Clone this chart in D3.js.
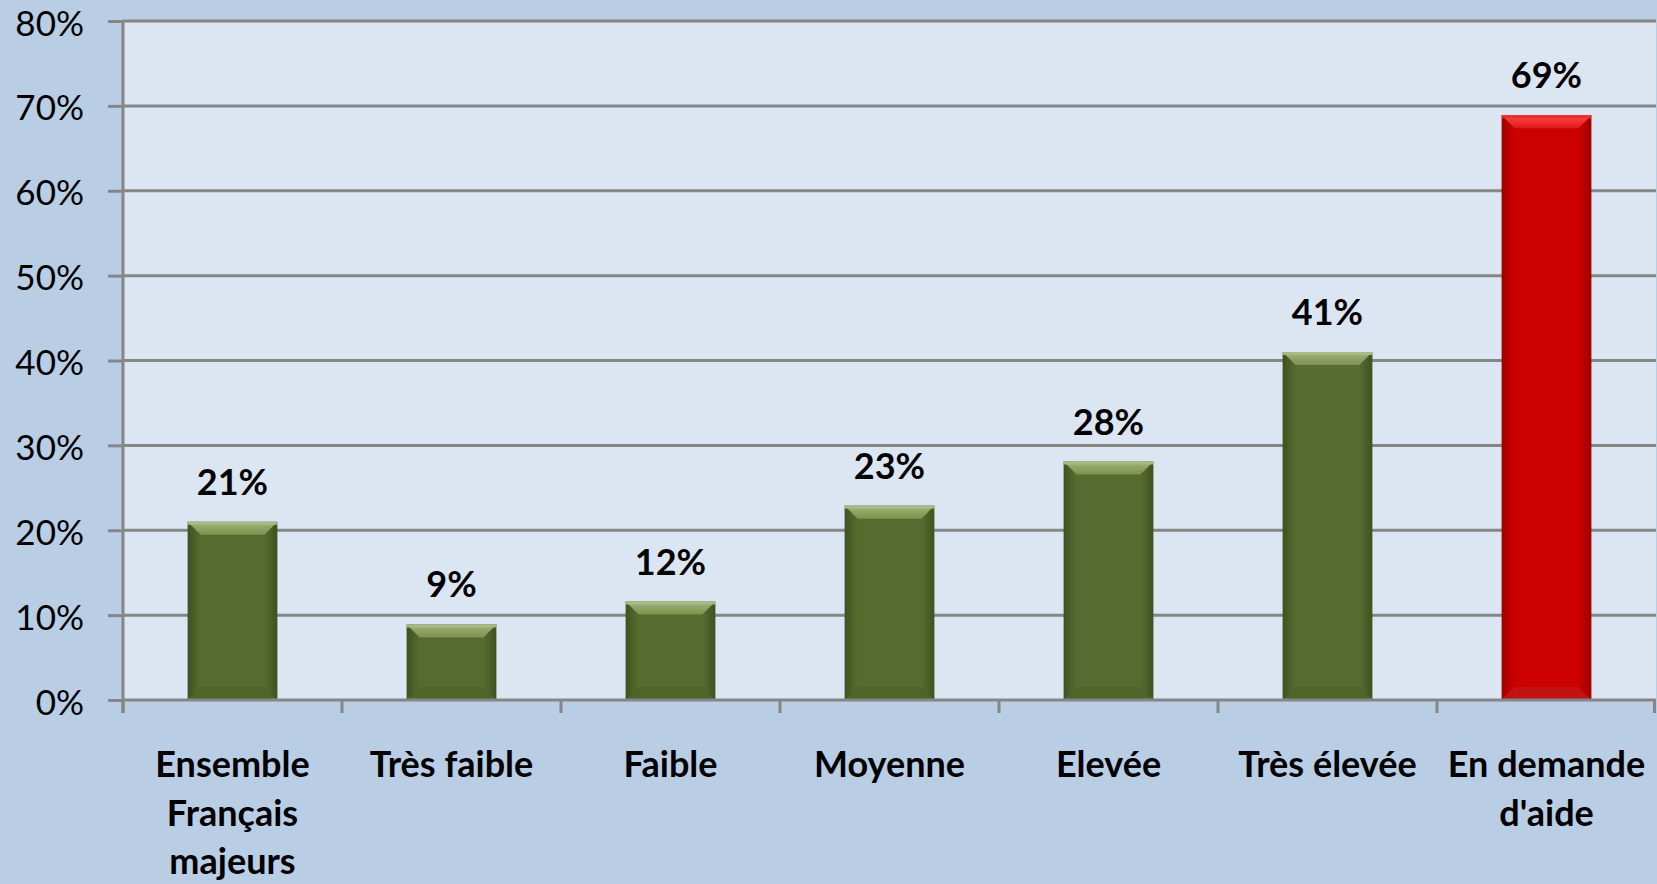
<!DOCTYPE html>
<html>
<head>
<meta charset="utf-8">
<script src="https://cdn.jsdelivr.net/npm/d3@7"></script>
<style>
  html, body { margin: 0; padding: 0; background: #B9CDE5; }
  svg { display: block; font-family: Lato, "Open Sans", sans-serif; }
</style>
</head>
<body>
<div id="chart"></div>
<script>
const categories = [
    ['Ensemble', 'Français', 'majeurs'],
    ['Très faible'],
    ['Faible'],
    ['Moyenne'],
    ['Elevée'],
    ['Très élevée'],
    ['En demande', "d'aide"]
];
const values = [21, 8.9, 11.6, 22.9, 28.1, 41, 68.9];
const valueLabels = ['21%', '9%', '12%', '23%', '28%', '41%', '69%'];
const highlight = [false, false, false, false, false, false, true];
const yTicks = [0, 10, 20, 30, 40, 50, 60, 70, 80];

const svgWidth = 1657;
const svgHeight = 884;

const margin = { top: 21, left: 123, right: 1, bottom: 184 };
const width = svgWidth - margin.left - margin.right;
const height = svgHeight - margin.top - margin.bottom;

const palettes = {
    green: { edge: '#3E5120', main: '#566B2F', light: '#A2B478', lightEnd: '#7D9150', lightEdge: '#A9B986', bottom: '#506429' },
    red: { edge: '#9E0000', main: '#CC0000', light: '#FF4A4A', lightEnd: '#E01818', lightEdge: '#E83030', bottom: '#C21212' }
};

const svg = d3.select('#chart').append('svg')
    .attr('width', svgWidth)
    .attr('height', svgHeight);

svg.append('rect')
    .attr('width', svgWidth)
    .attr('height', svgHeight)
    .attr('fill', '#B9CDE5');

const defs = svg.append('defs');
Object.entries(palettes).forEach(([key, p]) => {
    const g = defs.append('linearGradient')
        .attr('id', 'grad-' + key)
        .attr('x1', 0).attr('x2', 1).attr('y1', 0).attr('y2', 0);
    g.append('stop').attr('offset', '0%').attr('stop-color', p.edge);
    g.append('stop').attr('offset', '14%').attr('stop-color', p.main);
    g.append('stop').attr('offset', '86%').attr('stop-color', p.main);
    g.append('stop').attr('offset', '100%').attr('stop-color', p.edge);

    const t = defs.append('linearGradient')
        .attr('id', 'top-' + key)
        .attr('x1', 0).attr('x2', 0).attr('y1', 0).attr('y2', 1);
    t.append('stop').attr('offset', '0%').attr('stop-color', p.light);
    t.append('stop').attr('offset', '100%').attr('stop-color', p.lightEnd);
});

const x = d3.scaleBand()
    .domain(d3.range(categories.length))
    .range([0, width])
    .paddingInner(0.59)
    .paddingOuter(0.295);

const y = d3.scaleLinear()
    .domain([0, 80])
    .range([height, 0]);

const chart = svg.append('g')
    .attr('transform', `translate(${margin.left},${margin.top})`);

// Plot area
chart.append('rect')
    .attr('width', width)
    .attr('height', height)
    .attr('fill', '#DCE6F2');

// Gridlines
chart.selectAll('.grid')
    .data(yTicks.filter(d => d > 0))
    .enter()
    .append('line')
    .attr('x1', 0)
    .attr('x2', width)
    .attr('y1', d => y(d))
    .attr('y2', d => y(d))
    .attr('stroke', '#868686')
    .attr('stroke-width', 3);

// Y axis
const yAxis = chart.append('g')
    .call(d3.axisLeft(y).tickValues(yTicks).tickFormat(d => d + '%').tickSize(15).tickPadding(24));
yAxis.select('.domain').remove();
yAxis.selectAll('line').attr('stroke', '#868686').attr('stroke-width', 3);
yAxis.selectAll('text')
    .attr('fill', '#000')
    .attr('dy', '0.4em')
    .style('font-size', '35px')
    .style('font-family', 'Lato, sans-serif');

chart.append('line')
    .attr('x1', 0).attr('x2', 0)
    .attr('y1', 0).attr('y2', height + 13)
    .attr('stroke', '#868686')
    .attr('stroke-width', 3);

// Bars
const bars = chart.selectAll('.bar')
    .data(values)
    .enter()
    .append('g')
    .attr('class', 'bar');

const bevel = 13;
const pal = i => highlight[i] ? 'red' : 'green';

bars.append('rect')
    .attr('x', (d, i) => x(i))
    .attr('y', d => y(d))
    .attr('width', x.bandwidth())
    .attr('height', d => y(0) - y(d))
    .attr('fill', (d, i) => `url(#grad-${pal(i)})`);

bars.append('polygon')
    .attr('fill', (d, i) => `url(#top-${pal(i)})`)
    .attr('points', (d, i) => {
        const x0 = x(i), x1 = x(i) + x.bandwidth(), yt = y(d);
        return [[x0, yt], [x1, yt], [x1 - bevel, yt + bevel], [x0 + bevel, yt + bevel]].join(' ');
    });

bars.append('rect')
    .attr('x', (d, i) => x(i))
    .attr('y', d => y(d))
    .attr('width', x.bandwidth())
    .attr('height', 3)
    .attr('fill', (d, i) => palettes[pal(i)].lightEdge);

bars.append('polygon')
    .attr('fill', (d, i) => palettes[pal(i)].bottom)
    .attr('points', (d, i) => {
        const x0 = x(i), x1 = x(i) + x.bandwidth(), yb = y(0);
        return [[x0 + bevel, yb - bevel], [x1 - bevel, yb - bevel], [x1, yb], [x0, yb]].join(' ');
    });

// Value labels
chart.selectAll('.value')
    .data(values)
    .enter()
    .append('text')
    .attr('x', (d, i) => x(i) + x.bandwidth() / 2)
    .attr('y', d => y(d) - 27)
    .attr('text-anchor', 'middle')
    .style('font-size', '36px')
    .style('font-weight', 'bold')
    .text((d, i) => valueLabels[i]);

// X axis baseline and ticks
chart.append('line')
    .attr('x1', 0).attr('x2', width)
    .attr('y1', height).attr('y2', height)
    .attr('stroke', '#868686')
    .attr('stroke-width', 3);

chart.selectAll('.xtick')
    .data(d3.range(categories.length + 1))
    .enter()
    .append('line')
    .attr('x1', i => i * x.step() - (i === categories.length ? 1.5 : 0))
    .attr('x2', i => i * x.step() - (i === categories.length ? 1.5 : 0))
    .attr('y1', height)
    .attr('y2', height + 13)
    .attr('stroke', '#868686')
    .attr('stroke-width', 3);

// Category labels
const catLabels = chart.selectAll('.cat')
    .data(categories)
    .enter()
    .append('text')
    .attr('text-anchor', 'middle')
    .style('font-size', '36px')
    .style('font-weight', 'bold');

catLabels.selectAll('tspan')
    .data((d, i) => d.map(line => ({ line, i })))
    .enter()
    .append('tspan')
    .attr('x', d => x(d.i) + x.bandwidth() / 2)
    .attr('y', (d, j) => height + 77 + j * 48.5)
    .text(d => d.line);
</script>
</body>
</html>
